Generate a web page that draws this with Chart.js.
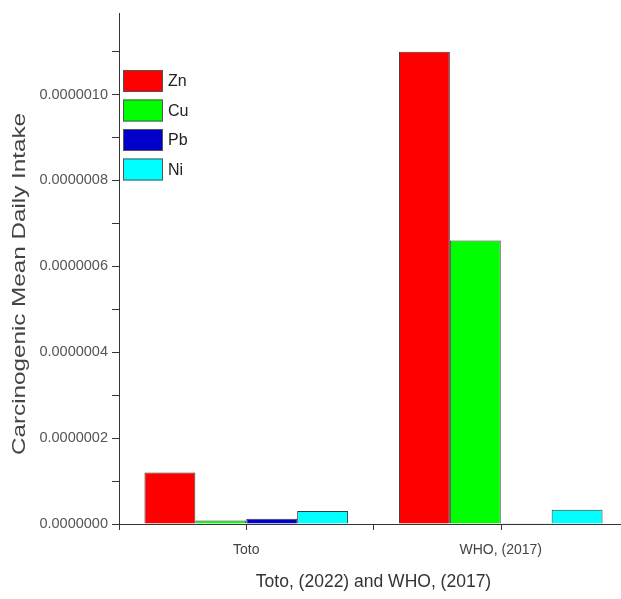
<!DOCTYPE html>
<html>
<head>
<meta charset="utf-8">
<script src="https://cdn.jsdelivr.net/npm/chart.js@4.4.1/dist/chart.umd.min.js"></script>
<style>
  html, body { margin: 0; padding: 0; background: #fff; overflow: hidden; }
  #wrap { position: relative; width: 628px; height: 599px; }
</style>
</head>
<body>
<div id="wrap"><canvas id="c"></canvas></div>
<script>
// ---- data ----
const categories = ['Toto', 'WHO, (2017)'];
const seriesNames = ['Zn', 'Cu', 'Pb', 'Ni'];
const Zn = [1.2e-7, 1.1e-6];
const Cu = [8e-9, 6.6e-7];
const Pb = [1.2e-8, 2e-9];
const Ni = [3.0e-8, 3.3e-8];
const yTickValues = [0, 1e-7, 2e-7, 3e-7, 4e-7, 5e-7, 6e-7, 7e-7, 8e-7, 9e-7, 1e-6, 1.1e-6];
const yTitle = 'Carcinogenic Mean Daily Intake';
const xTitle = 'Toto, (2022) and WHO, (2017)';

const FONT = '"Liberation Sans", Arial, Helvetica, sans-serif';
const colors = ['#ff0000', '#00ff00', '#0000c8', '#00ffff'];
const values = [Zn, Cu, Pb, Ni];

const datasets = seriesNames.map((n, i) => ({
  label: n,
  data: values[i],
  backgroundColor: colors[i],
  borderColor: '#3a3a3a',
  borderWidth: 1,
  barPercentage: 1.0,
  categoryPercentage: 0.8
}));

const extras = {
  id: 'extras',
  afterDraw(chart) {
    const ctx = chart.ctx;
    const x = chart.scales.x;
    const area = chart.chartArea;
    ctx.save();
    // center ticks on x axis
    ctx.strokeStyle = '#333';
    ctx.lineWidth = 1;
    categories.forEach((c, i) => {
      const px = Math.round(x.getPixelForValue(i)) + 0.5;
      ctx.beginPath();
      ctx.moveTo(px, area.bottom);
      ctx.lineTo(px, area.bottom + 6);
      ctx.stroke();
    });
    // legend
    const lx = area.left + 4, ly0 = 70, bw = 40, bh = 22, step = 29.5;
    chart.data.datasets.forEach((ds, i) => {
      const y = ly0 + i * step;
      ctx.fillStyle = ds.backgroundColor;
      ctx.fillRect(lx, y, bw, bh);
      ctx.strokeStyle = '#555';
      ctx.strokeRect(lx + 0.5, y + 0.5, bw - 1, bh - 1);
      ctx.fillStyle = '#222';
      ctx.font = '16px ' + FONT;
      ctx.textBaseline = 'middle';
      ctx.textAlign = 'left';
      ctx.fillText(ds.label, lx + bw + 5, y + bh / 2 + 1);
    });
    // y title (stretched along its length like the reference)
    ctx.translate(20, 284);
    ctx.rotate(-Math.PI / 2);
    ctx.font = '19px ' + FONT;
    const w = ctx.measureText(yTitle).width;
    ctx.scale(342 / w, 1);
    ctx.fillStyle = '#444';
    ctx.textAlign = 'center';
    ctx.textBaseline = 'middle';
    ctx.fillText(yTitle, 0, 0);
    ctx.restore();
  }
};

new Chart(document.getElementById('c'), {
  type: 'bar',
  data: { labels: categories, datasets },
  options: {
    responsive: true,
    maintainAspectRatio: false,
    animation: false,
    layout: { padding: { top: 13, left: 0, right: 0, bottom: 0 } },
    plugins: { legend: { display: false }, tooltip: { enabled: false } },
    scales: {
      x: {
        offset: true,
        grid: { display: true, offset: true, drawOnChartArea: false, drawTicks: true, tickLength: 6, color: '#333' },
        border: { display: true, color: '#333', width: 1 },
        ticks: { color: '#444', font: { family: FONT, size: 14 }, padding: 12, maxRotation: 0 },
        title: { display: true, text: xTitle, color: '#333', font: { family: FONT, size: 17.5 }, padding: { top: 0, bottom: 6 } },
        afterFit(s) { s.height = 75; }
      },
      y: {
        min: 0,
        max: 1.19e-6,
        afterBuildTicks(s) { s.ticks = yTickValues.map(v => ({ value: v })); },
        grid: { display: true, drawOnChartArea: false, drawTicks: true, tickLength: 7, color: '#333' },
        border: { display: true, color: '#333', width: 1 },
        ticks: {
          color: '#555',
          font: { family: FONT, size: 14.5 },
          padding: 4,
          callback: (v, i) => (i % 2 === 0 ? Number(v).toFixed(7) : '')
        },
        afterFit(s) { s.width = 119; }
      }
    }
  },
  plugins: [extras]
});
</script>
</body>
</html>
